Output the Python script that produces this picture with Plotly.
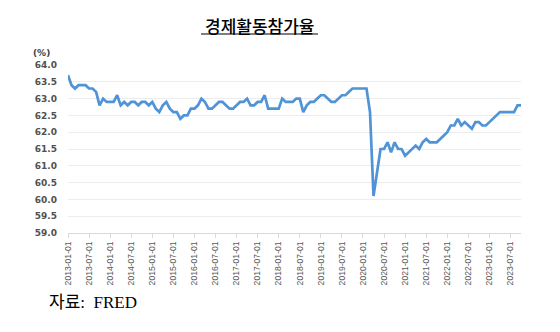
import pandas as pd
import plotly.graph_objects as go

# Monthly labour-force participation rate (%), 2013-01 .. 2023-10
dates = pd.date_range("2013-01-01", "2023-10-01", freq="MS").strftime("%Y-%m-%d").tolist()

rate_2013 = [63.7, 63.4, 63.3, 63.4, 63.4, 63.4, 63.3, 63.3, 63.2, 62.8, 63.0, 62.9]
rate_2014 = [62.9, 62.9, 63.1, 62.8, 62.9, 62.8, 62.9, 62.9, 62.8, 62.9, 62.9, 62.8]
rate_2015 = [62.9, 62.7, 62.6, 62.8, 62.9, 62.7, 62.6, 62.6, 62.4, 62.5, 62.5, 62.7]
rate_2016 = [62.7, 62.8, 63.0, 62.9, 62.7, 62.7, 62.8, 62.9, 62.9, 62.8, 62.7, 62.7]
rate_2017 = [62.8, 62.9, 62.9, 63.0, 62.8, 62.8, 62.9, 62.9, 63.1, 62.7, 62.7, 62.7]
rate_2018 = [62.7, 63.0, 62.9, 62.9, 62.9, 63.0, 63.0, 62.6, 62.8, 62.9, 62.9, 63.0]
rate_2019 = [63.1, 63.1, 63.0, 62.9, 62.9, 63.0, 63.1, 63.1, 63.2, 63.3, 63.3, 63.3]
rate_2020 = [63.3, 63.3, 62.6, 60.1, 60.8, 61.5, 61.5, 61.7, 61.4, 61.7, 61.5, 61.5]
rate_2021 = [61.3, 61.4, 61.5, 61.6, 61.5, 61.7, 61.8, 61.7, 61.7, 61.7, 61.8, 61.9]
rate_2022 = [62.0, 62.2, 62.2, 62.4, 62.2, 62.3, 62.2, 62.1, 62.3, 62.3, 62.2, 62.2]
rate_2023 = [62.3, 62.4, 62.5, 62.6, 62.6, 62.6, 62.6, 62.6, 62.8, 62.8]

rates = (rate_2013 + rate_2014 + rate_2015 + rate_2016 + rate_2017 + rate_2018
         + rate_2019 + rate_2020 + rate_2021 + rate_2022 + rate_2023)

tick_labels = dates[::6]
y_ticks = [59.0, 59.5, 60.0, 60.5, 61.0, 61.5, 62.0, 62.5, 63.0, 63.5, 64.0]

W, H = 560, 332
L, R, T, B = 68, 521, 65, 233


def px(x):
    return (x - L) / (R - L)


def py(y):
    return (B - y) / (B - T)


fig = go.Figure(
    go.Scatter(
        x=dates,
        y=rates,
        mode="lines",
        line=dict(color="#4F93D8", width=2.7),
        hoverinfo="x+y",
    )
)

fig.update_layout(
    width=W,
    height=H,
    margin=dict(l=L, r=W - R, t=T, b=H - B),
    paper_bgcolor="white",
    plot_bgcolor="white",
    showlegend=False,
    xaxis=dict(
        type="category",
        categoryorder="array",
        categoryarray=dates,
        range=[0, len(dates) - 1],
        tickmode="array",
        tickvals=tick_labels,
        ticktext=tick_labels,
        tickangle=-90,
        tickfont=dict(family="Liberation Sans", size=8.6, color="#595959"),
        ticks="outside",
        ticklen=4,
        tickcolor="#d9d9d9",
        showgrid=False,
        showline=True,
        linecolor="#d9d9d9",
        linewidth=1,
        zeroline=False,
    ),
    yaxis=dict(
        range=[59, 64],
        tickmode="array",
        tickvals=y_ticks,
        ticktext=[f"{v:.1f}" for v in y_ticks],
        tickfont=dict(family="DejaVu Sans", size=9, color="#505050", weight="bold"),
        ticklabelstandoff=10,
        showgrid=True,
        gridcolor="#ececec",
        gridwidth=1,
        showline=False,
        zeroline=False,
        ticks="",
    ),
    annotations=[
        dict(
            text="경제활동참가율",
            xref="paper", yref="paper",
            x=px(259.5), y=py(25.5),
            xanchor="center", yanchor="middle",
            showarrow=False,
            font=dict(family="Noto Sans CJK KR", size=17, color="black", weight=500),
        ),
        dict(
            text="(%)",
            xref="paper", yref="paper",
            x=px(41), y=py(53),
            xanchor="center", yanchor="middle",
            showarrow=False,
            font=dict(family="DejaVu Sans", size=9, color="#404040", weight="bold"),
        ),
        dict(
            text="자료:\u00a0 FRED",
            xref="paper", yref="paper",
            x=px(47), y=py(302),
            xanchor="left", yanchor="middle",
            showarrow=False,
            font=dict(family="Liberation Serif, Noto Sans CJK KR", size=17, color="black"),
        ),
    ],
    shapes=[
        dict(
            type="line",
            xref="paper", yref="paper",
            x0=px(201), x1=px(318), y0=py(34), y1=py(34),
            line=dict(color="black", width=1.2),
        )
    ],
)

fig.write_html("out.html")
